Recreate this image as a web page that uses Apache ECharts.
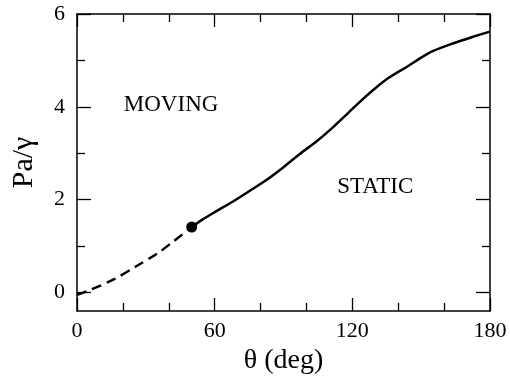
<!DOCTYPE html>
<html>
<head>
<meta charset="utf-8">
<script src="https://cdn.jsdelivr.net/npm/echarts@6/dist/echarts.min.js"></script>
<style>
html,body{margin:0;padding:0;background:#fff;}
#chart{width:510px;height:377px;}
</style>
</head>
<body>
<div id="chart"></div>
<script>
var xTicks = [0, 60, 120, 180];
var yMajor = [0, 2, 4, 6];
var yMinor = [1, 3, 5];
// moving branch (dashed) up to the transition point
var dashedPts = [[0,-0.05],[6,0.06],[16,0.28],[26,0.57],[35,0.84],[42,1.1],[50,1.41]];
// static branch (solid)
var solidPts = [[50,1.41],[55,1.58],[60,1.73],[68,1.96],[75,2.18],[83,2.44],[90,2.7],[97,2.98],
    [105,3.28],[112,3.58],[118,3.86],[124,4.14],[130,4.4],[136,4.63],[144,4.87],[150,5.06],
    [155,5.2],[164,5.37],[172,5.5],[180,5.62]];
var transition = [[50,1.41]];
var regionLabels = [[41,4.03,'MOVING'],[130,2.27,'STATIC']];

var font = 'Liberation Serif';
var chart = echarts.init(document.getElementById('chart'));

function xAx(pos, labels){
    return {
        type:'value', position:pos, min:0, max:180, interval:60,
        axisLine:{show:true, onZero:false, lineStyle:{color:'#000', width:1.5}},
        axisTick:{inside:true, length:13, lineStyle:{color:'#000', width:1.3}},
        minorTick:{show:true, splitNumber:3, length:8, lineStyle:{color:'#000', width:1.3}},
        splitLine:{show:false},
        axisLabel:{show:labels, color:'#000', fontFamily:font, fontSize:22, margin:9},
        name: labels ? '\u03b8 (deg)' : '',
        nameLocation:'middle', nameGap:36,
        nameTextStyle:{color:'#000', fontFamily:font, fontSize:28}
    };
}
function yAx(pos, values, len, labels, line){
    return {
        type:'value', position:pos, min:-0.4, max:6,
        axisLine:{show:line, onZero:false, lineStyle:{color:'#000', width:1.5}},
        axisTick:{show:true, inside:true, length:len, customValues:values, lineStyle:{color:'#000', width:1.3}},
        splitLine:{show:false},
        axisLabel:{show:labels, customValues:values, color:'#000', fontFamily:font, fontSize:22, margin:12},
        name: labels ? 'Pa/\u03b3' : '',
        nameLocation:'middle', nameGap:38,
        nameTextStyle:{color:'#000', fontFamily:font, fontSize:30}
    };
}

var option = {
    animation:false,
    backgroundColor:'#fff',
    grid:{left:77, right:20, top:14, bottom:66, outerBoundsMode:'none', containLabel:false},
    xAxis:[xAx('bottom', true), xAx('top', false)],
    yAxis:[
        yAx('left', yMajor, 14, true, true),
        yAx('left', yMinor, 8, false, false),
        yAx('right', yMajor, 14, false, true),
        yAx('right', yMinor, 8, false, false)
    ],
    series:[
        {type:'line', data:dashedPts, smooth:0.3, showSymbol:false,
         lineStyle:{color:'#000', width:2.5, type:[10,6]}},
        {type:'line', data:solidPts, smooth:0.3, showSymbol:false,
         lineStyle:{color:'#000', width:2.5}},
        {type:'scatter', data:transition, symbolSize:11, itemStyle:{color:'#000', opacity:1}},
        {type:'scatter', data:regionLabels, symbolSize:0, itemStyle:{opacity:1},
         label:{show:true, position:'inside', color:'#000', fontFamily:font, fontSize:23,
                formatter:function(p){return p.value[2];}}}
    ]
};
chart.setOption(option);
</script>
</body>
</html>
